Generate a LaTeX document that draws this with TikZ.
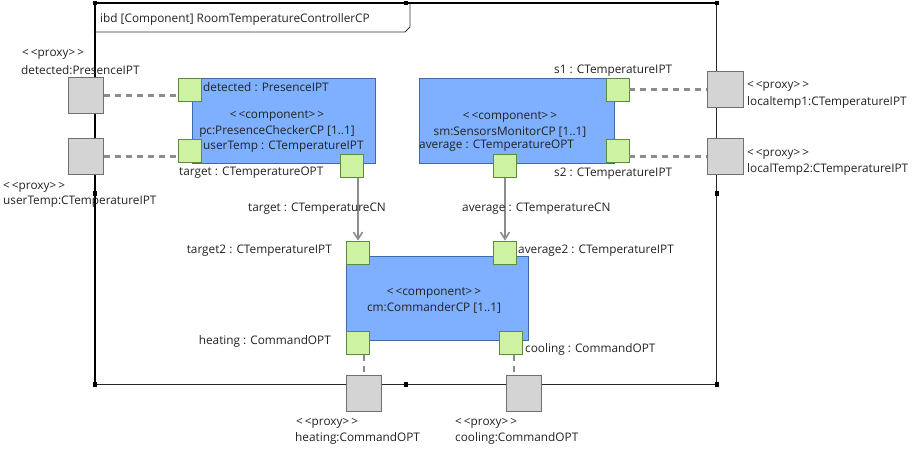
\documentclass[tikz,border=0pt]{standalone}
\usepackage{fontspec}
\setmainfont{Open Sans}
\usetikzlibrary{arrows.meta}
\definecolor{compfill}{HTML}{7EB0FF}
\definecolor{compborder}{HTML}{3F6AA8}
\definecolor{portfill}{HTML}{CDF2A2}
\definecolor{portborder}{HTML}{5E8A3E}
\definecolor{proxyfill}{HTML}{D4D4D4}
\definecolor{proxyborder}{HTML}{707070}
\definecolor{txt}{HTML}{222222}
\definecolor{connc}{HTML}{8C8C8C}
\newcommand{\stereo}[1]{<\kern2pt<#1>\kern2pt>}
\begin{document}
\begin{tikzpicture}[x=1pt,y=-1pt,
  lbl/.style={font=\fontsize{11.8}{14}\selectfont, text=txt, inner sep=0pt, anchor=west},
  clbl/.style={font=\fontsize{11.8}{16}\selectfont, text=txt, inner sep=0pt, align=center},
  comp/.style={draw=compborder, fill=compfill, line width=1pt, inner sep=0pt},
  portbox/.style={draw=portborder, fill=portfill, line width=0.9pt, minimum width=23pt, minimum height=23pt, inner sep=0pt},
  proxybox/.style={draw=proxyborder, fill=proxyfill, line width=0.9pt, minimum width=35.5pt, minimum height=35.5pt, inner sep=0pt},
  dashconn/.style={draw=connc, line width=2.2pt, dash pattern=on 6pt off 5pt},
  flowconn/.style={draw=connc, line width=1.6pt, -{Straight Barb[length=7pt,width=9pt,line width=1.6pt]}},
  handle/.style={fill=black}
]
\useasboundingbox (0,0) rectangle (915,452);

% frame
\draw[black!85, line width=1.2pt] (716.7,3.3) -- (716.7,384.3) -- (95,384.3);
\draw[black, line width=1.8pt] (95,384.3) -- (95,3.3) -- (716.7,3.3);
\draw[black!80, line width=0.8pt] (95,32) -- (405,32) -- (410,27) -- (410,3.3);
\node[lbl] (title) at (100,19) {ibd [Component] RoomTemperatureControllerCP};
\foreach \hx/\hy in {95/3.3, 405.7/3.3, 716.7/3.3, 95/193.3, 716.7/193.3, 95/384.3, 405.7/384.3, 716.7/384.3}
  \fill[handle] (\hx-2.2,\hy-2.2) rectangle (\hx+2.2,\hy+2.2);

% components
\node[comp, minimum width=182.7pt, minimum height=85pt] (pc) at (284.3,120.5) {};
\node[comp, minimum width=195pt, minimum height=85pt] (sm) at (516.5,120.5) {};
\node[comp, minimum width=181.6pt, minimum height=84pt] (cm) at (437.5,298) {};

\node[clbl] (pctext) at (277,124.5) {\stereo{component}\\pc:PresenceCheckerCP [1..1]};
\node[clbl] (smtext) at (510,124.5) {\stereo{component}\\sm:SensorsMonitorCP [1..1]};
\node[clbl] (cmtext) at (434,300.5) {\stereo{component}\\cm:CommanderCP [1..1]};

% ports
\node[portbox] (pDet) at (190,89.5) {};
\node[portbox] (pUser) at (190,150.5) {};
\node[portbox] (pTarget) at (352,166) {};
\node[portbox] (pS1) at (617.5,89.5) {};
\node[portbox] (pS2) at (617.5,150.5) {};
\node[portbox] (pAvg) at (504.7,166) {};
\node[portbox] (pT2) at (358,252.5) {};
\node[portbox] (pAvg2) at (505,252.5) {};
\node[portbox] (pHeat) at (358,343.3) {};
\node[portbox] (pCool) at (511,343.3) {};

% proxies
\node[proxybox] (xDet) at (86,95.5) {};
\node[proxybox] (xUser) at (86,156.5) {};
\node[proxybox] (xL1) at (725.5,89.5) {};
\node[proxybox] (xL2) at (725.5,156.5) {};
\node[proxybox] (xHeat) at (364,393.3) {};
\node[proxybox] (xCool) at (523.7,393.3) {};

% connectors
\draw[dashconn] (xDet.east) -- (xDet.east -| pDet.west);
\draw[dashconn] (xUser.east) -- (xUser.east -| pUser.west);
\draw[dashconn] (pS1.east) -- (xL1.west);
\draw[dashconn] (xL2.west -| pS2.east) -- (xL2.west);
\draw[dashconn] (xHeat.north |- pHeat.south) -- (xHeat.north);
\draw[dashconn] (pCool.south) ++(3,0) coordinate (cA) -- (cA |- xCool.north);
\draw[flowconn] (pT2.north |- pTarget.south) -- (pT2.north);
\draw[flowconn] (pAvg2.north |- pAvg.south) -- (pAvg2.north);

% labels
\node[lbl] (lDet1) at (22,54) {\stereo{proxy}};
\node[lbl] (lDet2) at (21,70) {detected:PresenceIPT};
\node[lbl] (lUs1) at (3,187) {\stereo{proxy}};
\node[lbl] (lUs2) at (3,202) {userTemp:CTemperatureIPT};
\node[lbl] (lpDet) at (203,87) {detected : PresenceIPT};
\node[lbl] (lpUser) at (203,147) {userTemp : CTemperatureIPT};
\node[lbl] (lpTarget) at (179,173) {target : CTemperatureOPT};
\node[lbl] (lpAvg) at (419,146) {average : CTemperatureOPT};
\node[lbl] (lS1) at (554,71) {s1 : CTemperatureIPT};
\node[lbl] (lS2) at (554,174) {s2 : CTemperatureIPT};
\node[lbl] (lL11) at (747,86) {\stereo{proxy}};
\node[lbl] (lL12) at (747,102) {localtemp1:CTemperatureIPT};
\node[lbl] (lL21) at (747,154) {\stereo{proxy}};
\node[lbl] (lL22) at (747,169) {localTemp2:CTemperatureIPT};
\node[lbl] (lcT) at (248,209) {target : CTemperatureCN};
\node[lbl] (lcA) at (462,209) {average : CTemperatureCN};
\node[lbl, anchor=east] (lT2) at (332,251) {target2 : CTemperatureIPT};
\node[lbl, anchor=east] (lHeat) at (331,341) {heating : CommandOPT};
\node[lbl] (lAvg2) at (518,251) {average2 : CTemperatureIPT};
\node[lbl] (lCool) at (525,349) {cooling : CommandOPT};
\node[lbl] (lH1) at (296,423) {\stereo{proxy}};
\node[lbl] (lH2) at (295,438) {heating:CommandOPT};
\node[lbl] (lC1) at (455,423) {\stereo{proxy}};
\node[lbl] (lC2) at (455,438) {cooling:CommandOPT};
\end{tikzpicture}
\end{document}
